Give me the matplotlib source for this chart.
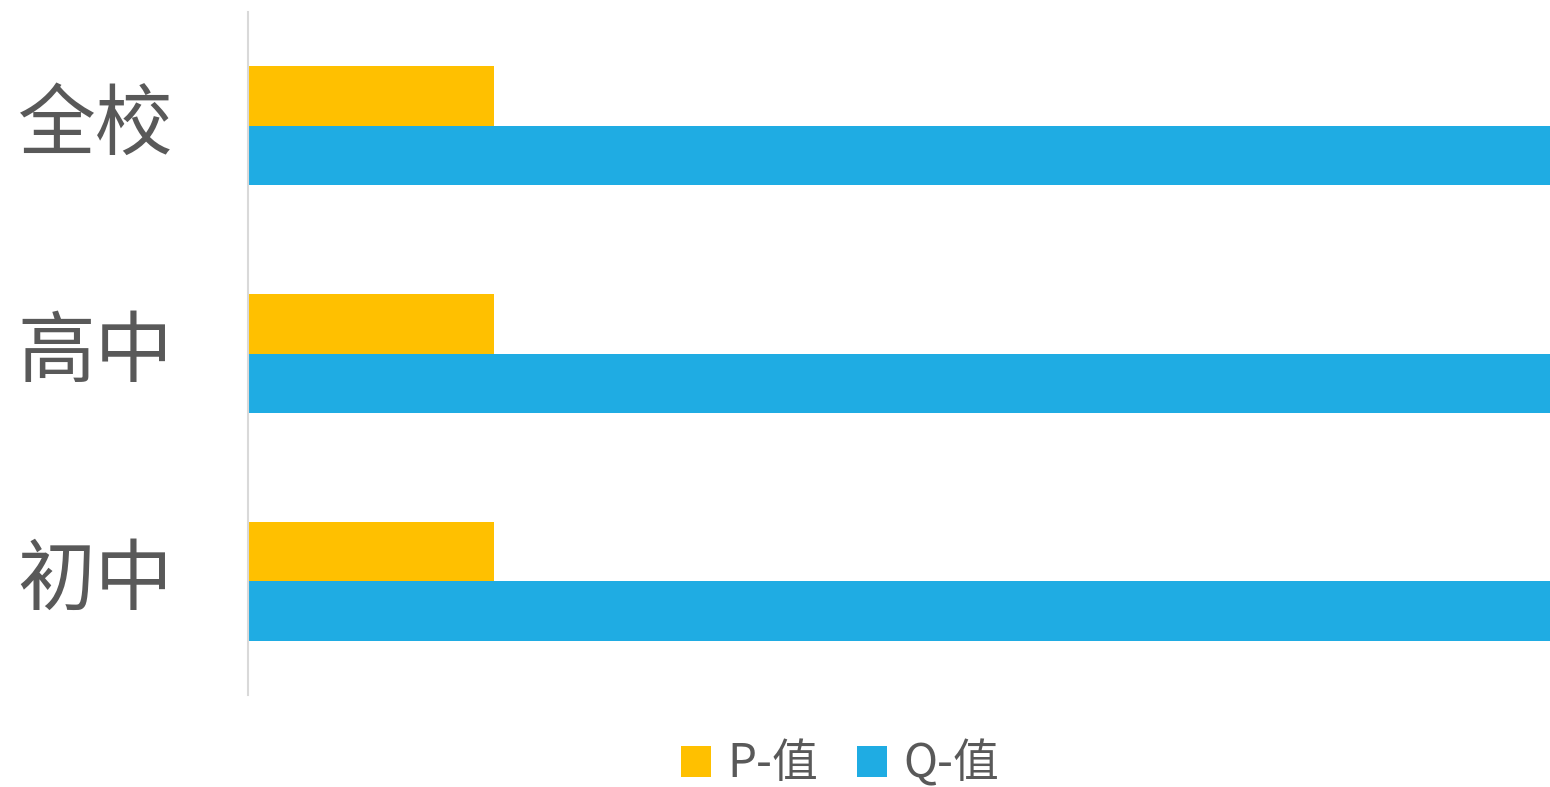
import matplotlib
matplotlib.use("Agg")
import matplotlib.pyplot as plt
import matplotlib.transforms as mtransforms
import numpy as np

plt.rcParams['font.family'] = ['Noto Sans CJK SC', 'DejaVu Sans']

categories = ['全校', '高中', '初中']
p_values = [0.05, 0.05, 0.05]
q_values = [0.30, 0.30, 0.30]
series_names = ['P-值', 'Q-值']
colors = ['#FFC000', '#1FACE3']
text_color = '#595959'

fig = plt.figure(figsize=(15.5, 7.87), dpi=100)
ax = fig.add_axes([248 / 1550, 1 - 695 / 787, 1 - 248 / 1550, (695 - 12) / 787])

y = np.arange(len(categories))
h = 0.2615
ax.barh(y - h / 2, p_values, height=h, color=colors[0], label=series_names[0])
ax.barh(y + h / 2, q_values, height=h, color=colors[1], label=series_names[1])

ax.set_ylim(len(categories) - 0.5, -0.5)
ax.set_xlim(0, 0.05 / 0.189)
ax.set_yticks(y)
ax.set_yticklabels(categories, fontsize=56, color=text_color)
ax.tick_params(axis='y', length=0, pad=54)
offset = mtransforms.ScaledTranslation(0, 8 / 100, fig.dpi_scale_trans)
for lbl in ax.get_yticklabels():
    lbl.set_transform(lbl.get_transform() + offset)
ax.set_xticks([])
for s in ['top', 'right', 'bottom']:
    ax.spines[s].set_visible(False)
ax.spines['left'].set_color('#D9D9D9')
ax.spines['left'].set_linewidth(1.5)

leg = fig.legend(loc='center', bbox_to_anchor=(840 / 1550, 1 - 764 / 787),
                 ncol=2, frameon=False, fontsize=33,
                 handlelength=0.66, handleheight=0.66, handletextpad=0.35,
                 columnspacing=0.85, borderpad=0)
for t in leg.get_texts():
    t.set_color(text_color)

fig.savefig('out.png', dpi=100)
